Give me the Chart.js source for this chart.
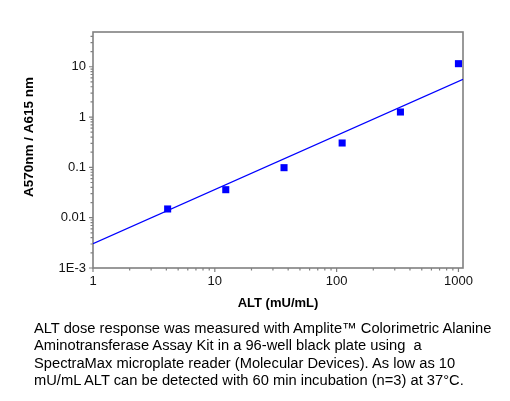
<!DOCTYPE html>
<html>
<head>
<meta charset="utf-8">
<script src="https://cdn.jsdelivr.net/npm/chart.js@4"></script>
<style>
  html, body { margin: 0; padding: 0; background: #fff; }
  #wrap { position: relative; width: 510px; height: 401px; }
  #caption { position: absolute; left: 34px; top: 320px; font: 14.7px Arial, 'Liberation Sans', sans-serif; line-height: 17.3px; color: #000; white-space: nowrap; }
</style>
</head>
<body>
<div id="wrap">
  <canvas id="chart"></canvas>
  <div id="caption">ALT dose response was measured with Amplite™ Colorimetric Alanine<br>Aminotransferase Assay Kit in a 96-well black plate using &nbsp;a<br>SpectraMax microplate reader (Molecular Devices). As low as 10<br>mU/mL ALT can be detected with 60 min incubation (n=3) at 37°C.</div>
</div>
<script>
// measured points
const altConc = [4.1, 12.3, 37, 111, 334, 1000]
const ratio = [0.0149, 0.036, 0.0986, 0.305, 1.26, 11.5]
// fitted line end points
const fitX = [1, 1090]
const fitY = [0.00304, 5.64]

const yTickValues = [0.001, 0.01, 0.1, 1, 10]
const yTickLabels = ['1E-3', '0.01', '0.1', '1', '10']
const xTickValues = [1, 10, 100, 1000]
const xTickLabels = ['1', '10', '100', '1000']

const xTitle = 'ALT (mU/mL)'
const yTitle = 'A570nm / A615 nm'

const axisGrey = '#808080'
const blue = '#0000ff'

function mantissa(v) { return v / Math.pow(10, Math.floor(Math.log10(v) + 1e-9)) }
function wholeMantissa(v) { const m = mantissa(v); return Math.abs(m - Math.round(m)) < 1e-6 }
function isDecade(v) { return Math.abs(mantissa(v) - 1) < 1e-6 }
function labelFor(values, labels, v) {
  const i = values.findIndex(t => Math.abs(Math.log10(t) - Math.log10(v)) < 1e-6)
  return i >= 0 ? labels[i] : ''
}

const frameTicks = {
  id: 'frameTicks',
  beforeDatasetsDraw(chart) {
    const ctx = chart.ctx, a = chart.chartArea
    const xs = chart.scales.x, ys = chart.scales.y
    ctx.save()
    ctx.strokeStyle = axisGrey
    ctx.lineWidth = 1.6
    ctx.strokeRect(a.left, a.top, a.right - a.left, a.bottom - a.top)
    ctx.lineWidth = 1.2
    ctx.beginPath()
    xs.ticks.forEach(t => {
      const p = xs.getPixelForValue(t.value)
      const len = isDecade(t.value) ? 4 : 2.5
      ctx.moveTo(p, a.bottom); ctx.lineTo(p, a.bottom + len)
    })
    ys.ticks.forEach(t => {
      const p = ys.getPixelForValue(t.value)
      const len = isDecade(t.value) ? 4 : 2.5
      ctx.moveTo(a.left, p); ctx.lineTo(a.left - len, p)
    })
    ctx.stroke()
    ctx.restore()
  },
  afterDraw(chart) {
    const ctx = chart.ctx
    ctx.save()
    ctx.translate(29, 137)
    ctx.rotate(-Math.PI / 2)
    ctx.font = 'bold 13.5px Arial, "Liberation Sans", sans-serif'
    ctx.textAlign = 'center'
    ctx.textBaseline = 'middle'
    ctx.fillStyle = '#000'
    ctx.fillText(yTitle, 0, 0)
    ctx.restore()
  }
}

new Chart(document.getElementById('chart'), {
  type: 'scatter',
  data: {
    datasets: [
      { label: 'data', data: altConc.map((x, i) => ({ x, y: ratio[i] })), pointStyle: 'rect', pointRadius: 5,
        backgroundColor: blue, borderColor: blue, borderWidth: 0 },
      { label: 'fit', data: fitX.map((x, i) => ({ x, y: fitY[i] })), showLine: true, pointRadius: 0,
        borderColor: blue, borderWidth: 1.3, fill: false }
    ]
  },
  options: {
    responsive: true, maintainAspectRatio: false, animation: false,
    layout: { padding: { left: 21, top: 32, right: 47, bottom: 90 } },
    plugins: { legend: { display: false }, tooltip: { enabled: false } },
    scales: {
      x: {
        type: 'logarithmic', min: 1, max: 1090,
        afterBuildTicks: s => { s.ticks = s.ticks.filter(t => wholeMantissa(t.value)) },
        afterFit: s => { s.height = 43 },
        grid: { display: false, drawTicks: false },
        border: { display: false },
        ticks: { autoSkip: false, maxRotation: 0, padding: 6, color: '#111',
          font: { family: 'Arial, "Liberation Sans", sans-serif', size: 13 },
          callback: v => labelFor(xTickValues, xTickLabels, v) },
        title: { display: true, text: xTitle, color: '#000', padding: { top: 0, bottom: 0 },
          font: { family: 'Arial, "Liberation Sans", sans-serif', size: 13, weight: 'bold' } }
      },
      y: {
        type: 'logarithmic', min: 0.001, max: 49,
        afterBuildTicks: s => { s.ticks = s.ticks.filter(t => wholeMantissa(t.value)) },
        afterFit: s => { s.width = 72 },
        grid: { display: false, drawTicks: false },
        border: { display: false },
        ticks: { autoSkip: false, padding: 7, color: '#111',
          font: { family: 'Arial, "Liberation Sans", sans-serif', size: 13 },
          callback: v => labelFor(yTickValues, yTickLabels, v) }
      }
    }
  },
  plugins: [frameTicks]
})
</script>
</body>
</html>
